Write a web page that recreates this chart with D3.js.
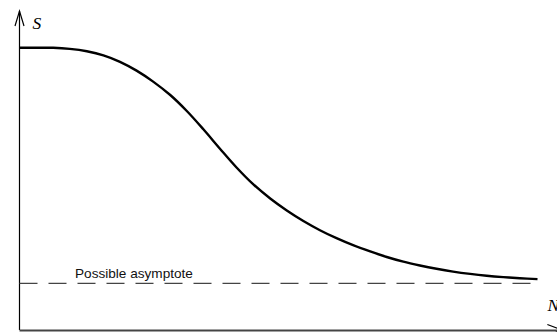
<!DOCTYPE html>
<html>
<head>
<meta charset="utf-8">
<style>
  body { margin: 0; background: #fff; }
  .axis-line { stroke: #000; stroke-width: 1.2; fill: none; }
  .curve { fill: none; stroke: #000; stroke-width: 2.4; }
  .asym { stroke: #444; stroke-width: 1.4; stroke-dasharray: 18 11; }
  .note { font-family: "Liberation Sans", Arial, sans-serif; font-size: 13.6px; fill: #111; }
  .var { font-family: "Liberation Serif", "Times New Roman", serif; font-style: italic; font-size: 17.5px; fill: #000; }
</style>
</head>
<body>
<svg id="chart" width="557" height="332"></svg>
<script src="https://d3js.org/d3.v7.min.js"></script>
<script>

// curve values (N, S in arbitrary units 0-100)
var nValues = [0, 3.3, 6.5, 9.7, 13.0, 16.2, 19.4, 22.6, 25.8, 29.1, 32.3, 35.5, 38.7, 41.9, 45.1, 48.4,
               51.6, 54.8, 58.0, 61.2, 64.4, 67.7, 70.9, 74.1, 77.3, 80.5, 83.7, 87.0, 90.2, 93.4, 96.6, 100];
var sValues = [100, 100, 99.96, 99.57, 98.73, 97.31, 95.01, 91.89, 87.99, 83.24, 77.58, 71.09, 64.22, 57.56, 51.65, 46.58,
               42.33, 38.61, 35.35, 32.52, 30.04, 27.81, 25.86, 24.19, 22.85, 21.68, 20.69, 19.87, 19.23, 18.74, 18.35, 18.03];

// dashed asymptote level and its extent
var asymptoteS = 16.5;
var asymptoteN = [0, 99.6];
var asymptoteLabel = "Possible asymptote";

// axis extents (data units), arrow tips
var axisTopS = 113;
var axisRightN = 104.8;
var xLabel = "N", yLabel = "S";

var svg = d3.select("#chart");

var x = d3.scaleLinear().domain([0, 100]).range([19.5, 537.5]);
var y = d3.scaleLinear().domain([0, 100]).range([330, 47.7]);

// axes
svg.append("line").attr("class", "axis-line")
  .attr("x1", x(0)).attr("x2", x(0))
  .attr("y1", y(0)).attr("y2", y(axisTopS));
svg.append("line").attr("class", "axis-line")
  .attr("x1", x(0)).attr("x2", x(axisRightN))
  .attr("y1", y(0) + 0.5).attr("y2", y(0) + 0.5)
  .style("stroke", "#444").style("stroke-width", 2);

// open arrow heads
var ytip = [x(0), y(axisTopS)];
svg.append("path").attr("class", "axis-line")
  .attr("d", "M" + (ytip[0] - 4.5) + "," + (ytip[1] + 15) + "L" + ytip[0] + "," + ytip[1] + "L" + (ytip[0] + 4.5) + "," + (ytip[1] + 15));
var xtip = [x(axisRightN), y(0)];
svg.append("path").attr("class", "axis-line")
  .attr("d", "M" + (xtip[0] - 15) + "," + (xtip[1] - 5.5) + "L" + xtip[0] + "," + xtip[1] + "L" + (xtip[0] - 15) + "," + (xtip[1] + 5.5));

// axis labels
svg.append("text").attr("class", "var")
  .attr("x", x(0) + 13).attr("y", 28.5)
  .text(yLabel);
svg.append("text").attr("class", "var")
  .attr("x", 547.5).attr("y", 311)
  .text(xLabel);

// asymptote
svg.append("line").attr("class", "asym")
  .attr("x1", x(asymptoteN[0])).attr("x2", x(asymptoteN[1]))
  .attr("y1", y(asymptoteS)).attr("y2", y(asymptoteS));
svg.append("text").attr("class", "note")
  .attr("x", 75).attr("y", y(asymptoteS) - 5)
  .text(asymptoteLabel);

// the curve
var pts = nValues.map(function(n, i) { return [n, sValues[i]]; });
var line = d3.line()
  .x(function(d) { return x(d[0]); })
  .y(function(d) { return y(d[1]); })
  .curve(d3.curveCatmullRom.alpha(0.5));
svg.append("path").attr("class", "curve").attr("d", line(pts));

</script>
</body>
</html>
